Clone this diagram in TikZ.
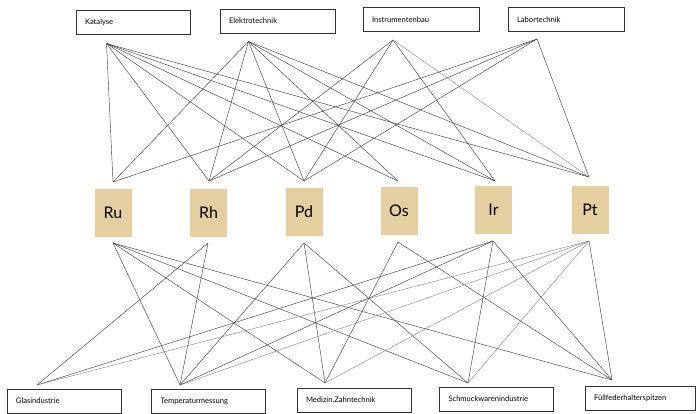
\documentclass[tikz,border=0pt]{standalone}
\usepackage{fontspec}
\setmainfont{Lato}
\definecolor{tan}{RGB}{229,206,160}
\tikzset{
  usebox/.style={draw=black!80, line width=0.5pt, fill=white, minimum height=24pt,
    inner xsep=9pt, inner ysep=0pt, align=left, font=\fontsize{7.6}{9}\selectfont},
  elembox/.style={fill=tan, minimum width=37pt, minimum height=48pt, inner sep=0pt,
    font=\fontsize{16}{18}\selectfont, text=black},
  conn/.style={draw=black!75, line width=0.45pt},
  connl/.style={draw=black!50, line width=0.4pt}
}
\begin{document}
\begin{tikzpicture}[x=1pt,y=-1pt]
\useasboundingbox (0,0) rectangle (700,413);
% top boxes
\node[usebox, text width=96pt] (Kat) at (133,22.5) {Katalyse};
\node[usebox, text width=97pt] (Ele) at (277.5,21) {Elektrotechnik};
\node[usebox, text width=98pt] (Ins) at (421,19.5) {Instrumentenbau};
\node[usebox, text width=98pt] (Lab) at (566,19.5) {Labortechnik};
% bottom boxes
\node[usebox, text width=96pt] (Gla) at (64,401) {Glasindustrie};
\node[usebox, text width=96pt] (Tem) at (208.5,401) {Temperaturmessung};
\node[usebox, text width=96pt] (Med) at (354,400) {Medizin,Zahntechnik};
\node[usebox, text width=96pt] (Sch) at (496.5,399) {Schmuckwarenindustrie};
\node[usebox, text width=92pt] (Fue) at (640,398) {Füllfederhalterspitzen};
% element boxes
\node[elembox] (Ru) at (113,213) {Ru};
\node[elembox] (Rh) at (208.5,212.5) {Rh};
\node[elembox] (Pd) at (304,212) {Pd};
\node[elembox] (Os) at (399,211) {Os};
\node[elembox] (Ir) at (493.5,210) {Ir};
\node[elembox] (Pt) at (590,209.5) {Pt};
% anchor points
\coordinate (Kat-p) at (106.5,43.5);
\coordinate (Ele-p) at (248.5,41.5);
\coordinate (Ins-p) at (393,40);
\coordinate (Lab-p) at (537,39);
\coordinate (Ru-t) at (113,182);
\coordinate (Rh-t) at (209,181);
\coordinate (Pd-t) at (304,181);
\coordinate (Os-t) at (398,181);
\coordinate (Ir-t) at (495,181);
\coordinate (Pt-t) at (589,177);
\coordinate (Ru-b) at (113,243);
\coordinate (Rh-b) at (208,243);
\coordinate (Pd-b) at (304,243);
\coordinate (Os-b) at (398,242);
\coordinate (Ir-b) at (493,241);
\coordinate (Pt-b) at (589,241);
\coordinate (Gla-p) at (37,385);
\coordinate (Tem-p) at (180,385);
\coordinate (Med-p) at (325,383);
\coordinate (Sch-p) at (468,383);
\coordinate (Fue-p) at (612,380);
% top connectors
\foreach \e in {Ru,Rh,Pd,Os,Ir,Pt} \draw[conn] (Kat-p) -- (\e-t);
\foreach \e in {Ru,Rh,Pd,Os,Ir,Pt} \draw[conn] (Ele-p) -- (\e-t);
\foreach \e in {Rh,Pd,Ir} \draw[conn] (Ins-p) -- (\e-t);
\draw[connl] (Ins-p) -- (Pt-t);
\foreach \e in {Ru,Rh,Pd,Pt} \draw[conn] (Lab-p) -- (\e-t);
% bottom connectors
\foreach \b in {Tem,Med,Sch,Fue} \draw[conn] (Ru-b) -- (\b-p);
\foreach \b in {Gla,Tem} \draw[conn] (Rh-b) -- (\b-p);
\foreach \b in {Tem,Med,Sch} \draw[conn] (Pd-b) -- (\b-p);
\foreach \b in {Med,Fue} \draw[conn] (Os-b) -- (\b-p);
\foreach \b in {Gla,Tem,Sch,Fue} \draw[conn] (Ir-b) -- (\b-p);
\foreach \b in {Gla,Tem,Med,Sch} \draw[connl] (Pt-b) -- (\b-p);
\draw[conn] (Pt-b) -- (Fue-p);
\end{tikzpicture}
\end{document}
